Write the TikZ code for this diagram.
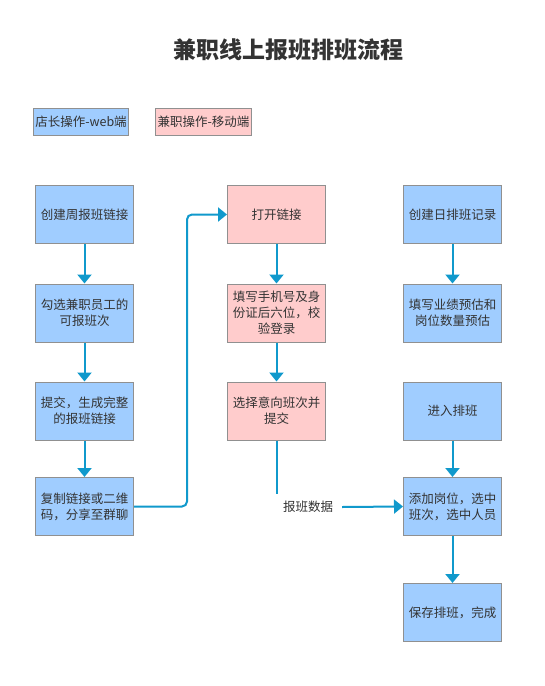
\documentclass[tikz,border=0pt]{standalone}
\usepackage{fontspec}
\newfontfamily\cjk{Noto Sans CJK SC}
\usetikzlibrary{arrows.meta}
\definecolor{boxblue}{HTML}{A0CDFF}
\definecolor{boxpink}{HTML}{FFCCCC}
\definecolor{boxline}{HTML}{909090}
\definecolor{txt}{HTML}{333333}
\definecolor{conncol}{HTML}{1099CC}
\tikzset{
  base/.style={draw=boxline, line width=1pt, text=txt, font=\cjk\fontsize{12.5}{16}\selectfont, align=center, inner sep=2pt},
  bluebox/.style={base, fill=boxblue, minimum width=98pt, minimum height=58pt, text width=92pt},
  pinkbox/.style={base, fill=boxpink, minimum width=98pt, minimum height=58pt, text width=92pt},
  legblue/.style={base, fill=boxblue, minimum width=95pt, minimum height=27pt, font=\cjk\fontsize{12.5}{15}\selectfont},
  legpink/.style={base, fill=boxpink, minimum width=94pt, minimum height=27pt, font=\cjk\fontsize{12.5}{15}\selectfont},
  conn/.style={draw=conncol, line width=2pt, -{Triangle[width=14pt,length=9pt]}},
  plainconn/.style={draw=conncol, line width=2pt},
}
\begin{document}
\begin{tikzpicture}[x=1pt,y=-1pt]
\useasboundingbox[fill=white] (0,0) rectangle (544,686);
\node[text=txt, font=\cjk\bfseries\fontsize{23}{27}\selectfont] (title) at (288,50) {兼职线上报班排班流程};
\node[legblue] (leg1) at (81,122) {店长操作-web端};
\node[legpink] (leg2) at (203.5,122) {兼职操作-移动端};

\node[bluebox] (c1a) at (84.5,214.5) {创建周报班链接};
\node[bluebox] (c1b) at (84.5,313) {勾选兼职员工的\\可报班次};
\node[bluebox] (c1c) at (84.5,411) {提交，生成完整\\的报班链接};
\node[bluebox] (c1d) at (84.5,506.5) {复制链接或二维\\码，分享至群聊};

\node[pinkbox] (c2a) at (276.5,214.5) {打开链接};
\node[pinkbox] (c2b) at (276.5,313) {填写手机号及身\\份证后六位，校\\验登录};
\node[pinkbox] (c2c) at (276.5,411) {选择意向班次并\\提交};

\node[bluebox] (c3a) at (452.5,214.5) {创建日排班记录};
\node[bluebox] (c3b) at (452.5,313) {填写业绩预估和\\岗位数量预估};
\node[bluebox] (c3c) at (452.5,411) {进入排班};
\node[bluebox] (c3d) at (452.5,506.5) {添加岗位，选中\\班次，选中人员};
\node[bluebox] (c3e) at (452.5,612.5) {保存排班，完成};

\node[text=txt, font=\cjk\fontsize{12.5}{15}\selectfont, inner sep=0pt] (data) at (308,507) {报班数据};

\coordinate (bend) at (187,360);
\coordinate (dataend) at (276.5,494);

\draw[conn] (c1a) -- (c1b);
\draw[conn] (c1b) -- (c1c);
\draw[conn] (c1c) -- (c1d);
\draw[conn, rounded corners=5pt] (c1d.east) -- (c1d.east -| bend) -- (bend |- c2a.west) -- (c2a.west);
\draw[conn] (c2a) -- (c2b);
\draw[conn] (c2b) -- (c2c);
\draw[plainconn] (c2c.south) -- (dataend);
\draw[conn] ([xshift=9pt]data.east) -- (c3d.west);
\draw[conn] (c3a) -- (c3b);
\draw[conn] (c3c) -- (c3d);
\draw[conn] (c3d) -- (c3e);
\end{tikzpicture}
\end{document}
